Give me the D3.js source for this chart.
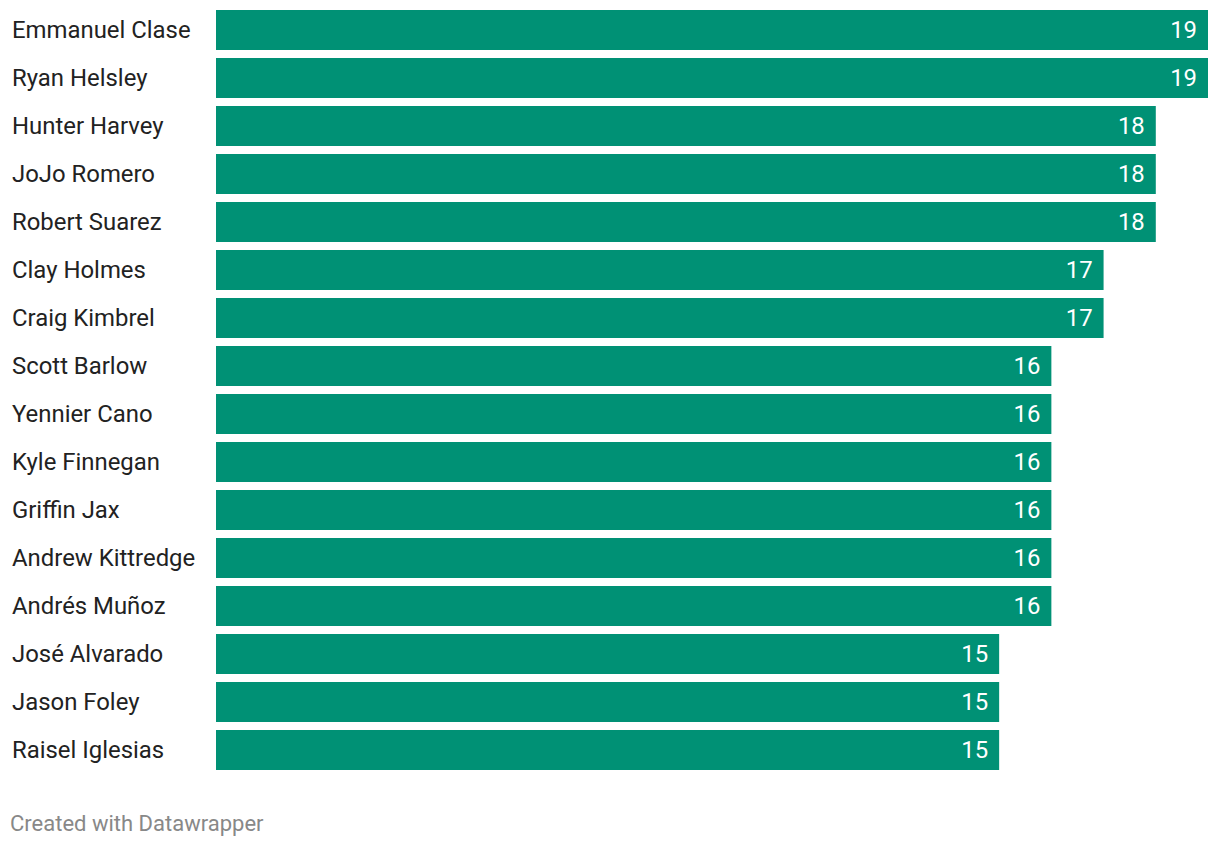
<!DOCTYPE html>
<html><head><meta charset="utf-8">
<script src="https://cdn.jsdelivr.net/npm/d3@7"></script>
<style>body{margin:0;background:#fff;font-family:Roboto,sans-serif;}</style>
</head><body>
<svg id="c" width="1220" height="846"></svg>
<script>
const names = ["Emmanuel Clase","Ryan Helsley","Hunter Harvey","JoJo Romero","Robert Suarez","Clay Holmes","Craig Kimbrel","Scott Barlow","Yennier Cano","Kyle Finnegan","Griffin Jax","Andrew Kittredge","Andrés Muñoz","José Alvarado","Jason Foley","Raisel Iglesias"];
const values = [19,19,18,18,18,17,17,16,16,16,16,16,16,15,15,15];

const svg = d3.select("#c");
const x = d3.scaleLinear().domain([0,19]).range([216,1208]);
const y = d3.scaleBand().domain(names).range([10,10+48*16]).padding(0);

const rows = svg.append("g").selectAll("g.row").data(names.map((n,i)=>({n,v:values[i]}))).join("g").attr("class","row");
rows.append("rect")
  .attr("x", x(0))
  .attr("y", d=>y(d.n))
  .attr("width", d=>x(d.v)-x(0))
  .attr("height", 40)
  .attr("fill","#009175");
rows.append("text")
  .attr("x", 12)
  .attr("y", d=>y(d.n)+28)
  .attr("font-size",23.9)
  .attr("fill","#222")
  .text(d=>d.n);
rows.append("text")
  .attr("x", d=>x(d.v)-11)
  .attr("y", d=>y(d.n)+28)
  .attr("text-anchor","end")
  .attr("font-size",23.9)
  .attr("fill","#fff")
  .text(d=>d.v);
svg.append("text").attr("x",10).attr("y",831).attr("font-size",22).attr("fill","#888").text("Created with Datawrapper");
</script>
</body></html>
